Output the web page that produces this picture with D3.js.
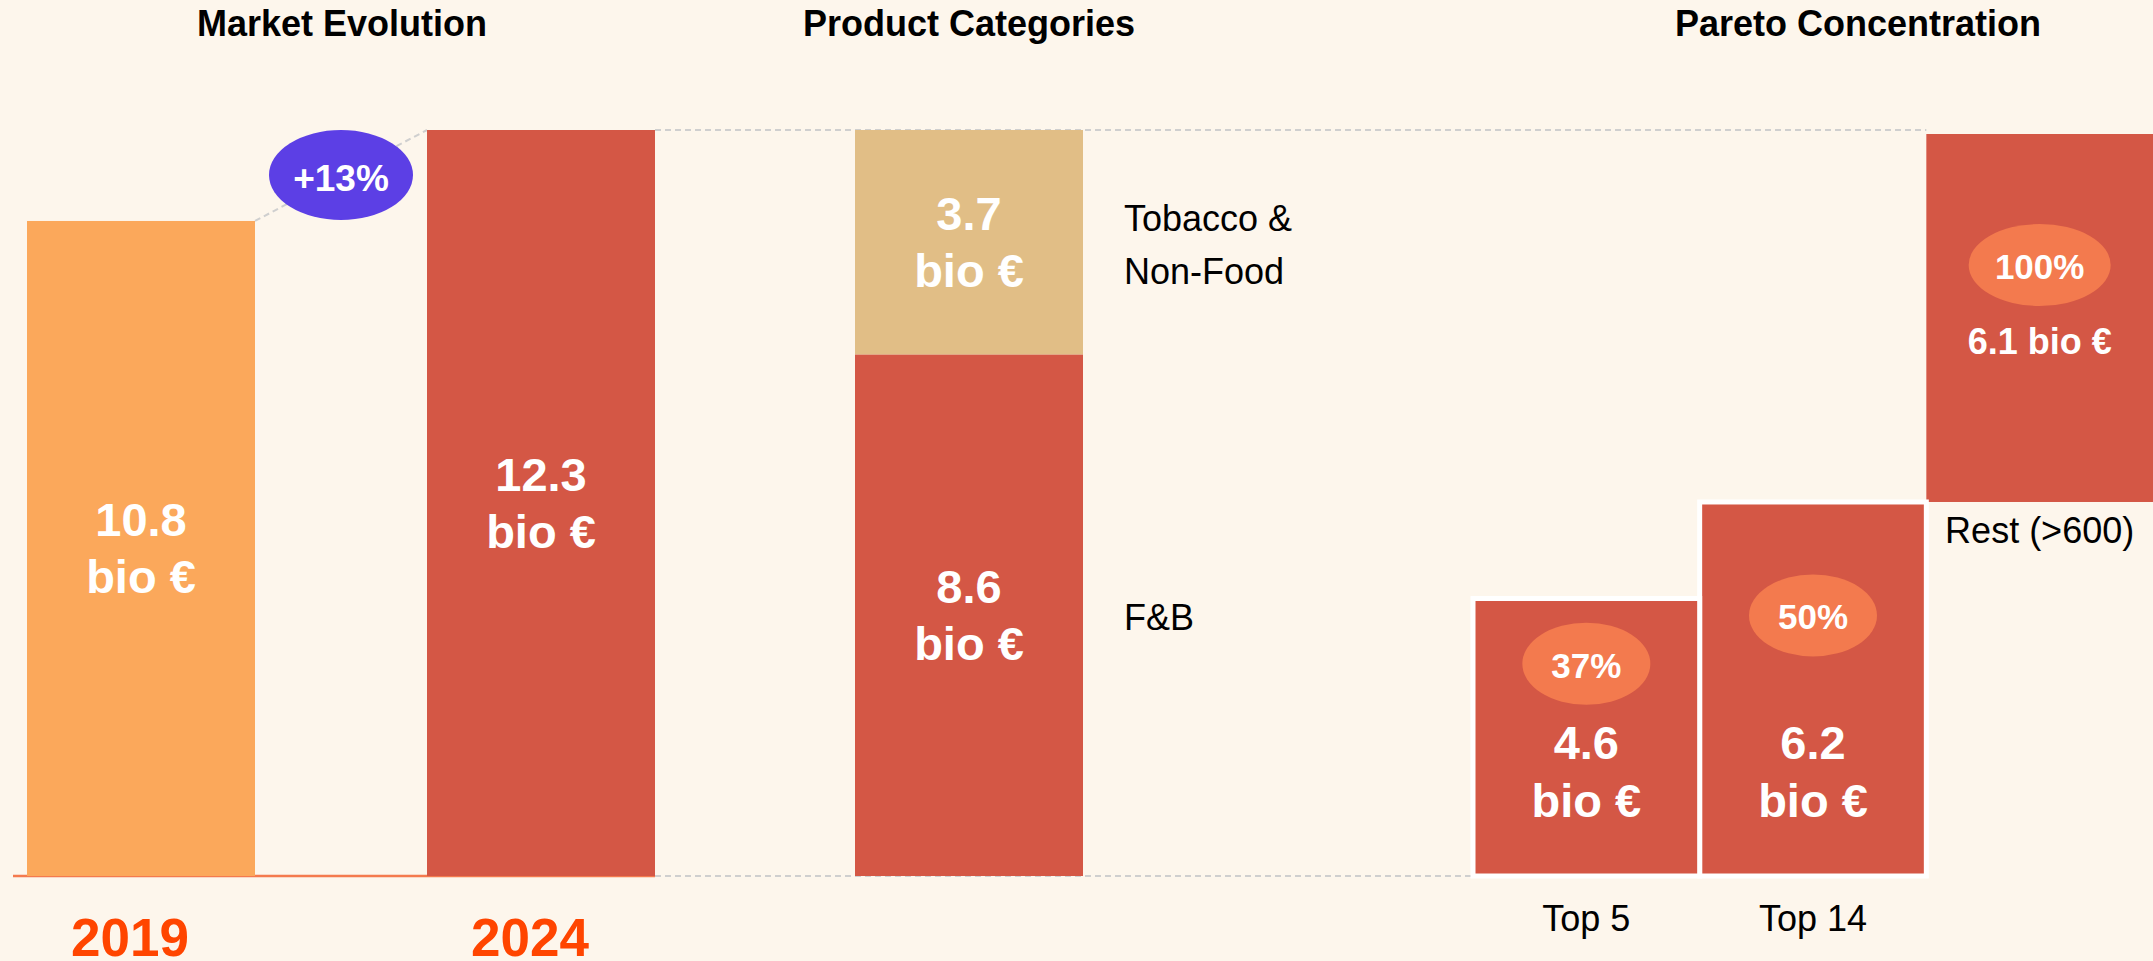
<!DOCTYPE html>
<html>
<head>
<meta charset="utf-8">
<script src="https://cdn.jsdelivr.net/npm/d3@7"></script>
<style>
  body { margin: 0; background: #fdf6ec; }
  svg { display: block; font-family: "Liberation Sans", Arial, sans-serif; }
</style>
</head>
<body>
<script>
var width = 2153;
var height = 961;

// market evolution
var years = ['2019', '2024'];
var marketValues = [10.8, 12.3];
var growthLabel = '+13%';

// product categories (stacked, bottom to top)
var categoryNames = ['F&B', 'Tobacco & Non-Food'];
var categoryLines = [['F&B'], ['Tobacco &', 'Non-Food']];
var categoryValues = [8.6, 3.7];

// pareto concentration
var paretoNames = ['Top 5', 'Top 14', 'Rest (>600)'];
var paretoStarts = [0, 0, 6.2];
var paretoValues = [4.6, 6.2, 6.1];
var paretoShares = ['37%', '50%', '100%'];

var titles = ['Market Evolution', 'Product Categories', 'Pareto Concentration'];

var red = '#d45745';
var marketColors = ['#fba85b', red];
var categoryColors = [red, '#e1be86'];
var fmt = d3.format('.1f');

var svg = d3.select('body')
    .append('svg')
    .attr('width', width)
    .attr('height', height);

svg.append('rect')
    .attr('width', width)
    .attr('height', height)
    .attr('fill', '#fdf6ec');

var yScale = d3.scaleLinear()
    .domain([0, 12.3])
    .range([876, 130]);

var yPareto = d3.scaleLinear()
    .domain([0, 12.3])
    .range([876, 134]);

var xMarket = d3.scaleBand()
    .domain(years)
    .range([27, 655])
    .paddingInner(0.43);

var xProduct = d3.scaleBand()
    .domain(['total'])
    .range([855, 1083]);

var xPareto = d3.scaleBand()
    .domain(paretoNames)
    .range([1473, 2153]);

var bw = xMarket.bandwidth();

// dashed guide lines
var guides = svg.append('g')
    .attr('fill', 'none')
    .attr('stroke', '#cfcfcf')
    .attr('stroke-width', 2)
    .attr('stroke-dasharray', '6,4');

guides.append('line')
    .attr('x1', xMarket('2024') + bw).attr('x2', xPareto('Rest (>600)'))
    .attr('y1', yScale(12.3)).attr('y2', yScale(12.3));

guides.append('line')
    .attr('x1', xMarket('2024') + bw).attr('x2', xPareto('Top 5'))
    .attr('y1', yScale(0)).attr('y2', yScale(0));

guides.append('line')
    .attr('x1', xMarket('2019') + bw).attr('y1', yScale(marketValues[0]))
    .attr('x2', xMarket('2024')).attr('y2', yScale(marketValues[1]));

// market axis line
svg.append('line')
    .attr('x1', 13).attr('x2', xMarket('2024') + bw)
    .attr('y1', yScale(0)).attr('y2', yScale(0))
    .attr('stroke', '#f47a4e')
    .attr('stroke-width', 2.5);

// market bars
svg.append('g')
    .selectAll('rect')
    .data(marketValues)
    .enter()
    .append('rect')
    .attr('x', function(d, i) { return xMarket(years[i]); })
    .attr('y', function(d) { return yScale(d); })
    .attr('width', bw)
    .attr('height', function(d) { return yScale(0) - yScale(d); })
    .attr('fill', function(d, i) { return marketColors[i]; });

// two-line value label helper
function valueLabel(g, cx, mid, v, size, gap) {
    var t = g.append('text')
        .attr('text-anchor', 'middle')
        .attr('fill', '#fff')
        .attr('font-weight', 'bold')
        .attr('font-size', size);
    t.append('tspan').attr('x', cx).attr('y', mid - gap / 2 + 16).text(fmt(v));
    t.append('tspan').attr('x', cx).attr('y', mid + gap / 2 + 16).text('bio €');
}

var labels = svg.append('g');

marketValues.forEach(function(v, i) {
    var mid = (yScale(v) + yScale(0)) / 2;
    valueLabel(labels, xMarket(years[i]) + bw / 2, mid, v, 47, 57);
});

// year labels
svg.append('g')
    .selectAll('text')
    .data(years)
    .enter()
    .append('text')
    .attr('x', function(d) { return xMarket(d) + bw / 2 - 11; })
    .attr('y', 956)
    .attr('text-anchor', 'middle')
    .attr('font-size', 53)
    .attr('font-weight', 'bold')
    .attr('fill', '#ff4500')
    .text(function(d) { return d; });

// growth bubble
var gx = (xMarket('2019') + bw + xMarket('2024')) / 2;
var gy = yScale(12.3) + 45;
svg.append('ellipse')
    .attr('cx', gx).attr('cy', gy)
    .attr('rx', 72).attr('ry', 45)
    .attr('fill', '#5c3fe5');
svg.append('text')
    .attr('x', gx).attr('y', gy + 16)
    .attr('text-anchor', 'middle')
    .attr('font-size', 37)
    .attr('font-weight', 'bold')
    .attr('fill', '#fff')
    .text(growthLabel);

// product categories stack
var stack = [];
var acc = 0;
categoryValues.forEach(function(v, i) {
    stack.push({ y0: acc, y1: acc + v, v: v, i: i });
    acc += v;
});

var pw = xProduct.bandwidth();
svg.append('g')
    .selectAll('rect')
    .data(stack)
    .enter()
    .append('rect')
    .attr('x', xProduct('total'))
    .attr('y', function(d) { return yScale(d.y1); })
    .attr('width', pw)
    .attr('height', function(d) { return yScale(d.y0) - yScale(d.y1); })
    .attr('fill', function(d) { return categoryColors[d.i]; });

stack.forEach(function(d) {
    var mid = (yScale(d.y0) + yScale(d.y1)) / 2;
    valueLabel(labels, xProduct('total') + pw / 2, mid, d.v, 47, 57);
    var lines = categoryLines[d.i];
    var t = labels.append('text')
        .attr('font-size', 36)
        .attr('fill', '#000');
    lines.forEach(function(s, k) {
        t.append('tspan')
            .attr('x', xProduct('total') + pw + 41)
            .attr('y', mid + (k - (lines.length - 1) / 2) * 53 + 15)
            .text(s);
    });
});

// pareto bars (floating one first, outlined ones on top)
var pareto = paretoNames.map(function(n, i) {
    return { name: n, y0: paretoStarts[i], y1: paretoStarts[i] + paretoValues[i], v: paretoValues[i], share: paretoShares[i] };
});
var pbw = xPareto.bandwidth();

svg.append('g')
    .selectAll('rect')
    .data(pareto.slice().reverse())
    .enter()
    .append('rect')
    .attr('x', function(d) { return xPareto(d.name); })
    .attr('y', function(d) { return yPareto(d.y1); })
    .attr('width', pbw)
    .attr('height', function(d) { return yPareto(d.y0) - yPareto(d.y1); })
    .attr('fill', red)
    .attr('stroke', function(d) { return d.y0 === 0 ? '#fff' : 'none'; })
    .attr('stroke-width', 5);

pareto.forEach(function(d) {
    var cx = xPareto(d.name) + pbw / 2;
    var top = yPareto(d.y1);
    var cy, rx = 64;
    if (d.y0 === 0) {
        var base = yPareto(0) - 117;
        cy = (top + base) / 2 - 15;
        var t = labels.append('text')
            .attr('text-anchor', 'middle')
            .attr('fill', '#fff')
            .attr('font-weight', 'bold')
            .attr('font-size', 47);
        t.append('tspan').attr('x', cx).attr('y', base).text(fmt(d.v));
        t.append('tspan').attr('x', cx).attr('y', base + 58).text('bio €');
        labels.append('text')
            .attr('x', cx).attr('y', yPareto(0) + 55)
            .attr('text-anchor', 'middle')
            .attr('font-size', 36)
            .text(d.name);
    } else {
        cy = top + 131;
        rx = 71;
        labels.append('text')
            .attr('x', cx).attr('y', cy + 89)
            .attr('text-anchor', 'middle')
            .attr('fill', '#fff')
            .attr('font-weight', 'bold')
            .attr('font-size', 36)
            .text(fmt(d.v) + ' bio €');
        labels.append('text')
            .attr('x', cx).attr('y', yPareto(d.y0) + 41)
            .attr('text-anchor', 'middle')
            .attr('font-size', 36)
            .text(d.name);
    }
    svg.append('ellipse')
        .attr('cx', cx).attr('cy', cy)
        .attr('rx', rx).attr('ry', 41)
        .attr('fill', '#f37a4e');
    svg.append('text')
        .attr('x', cx).attr('y', cy + 14)
        .attr('text-anchor', 'middle')
        .attr('font-size', 35)
        .attr('font-weight', 'bold')
        .attr('fill', '#fff')
        .text(d.share);
});

// keep all labels above the bars
labels.raise();

// titles
var titleX = [342, 969, 1858];
svg.append('g')
    .selectAll('text')
    .data(titles)
    .enter()
    .append('text')
    .attr('x', function(d, i) { return titleX[i]; })
    .attr('y', 36)
    .attr('text-anchor', 'middle')
    .attr('font-size', 36)
    .attr('font-weight', 'bold')
    .text(function(d) { return d; });
</script>
</body>
</html>
